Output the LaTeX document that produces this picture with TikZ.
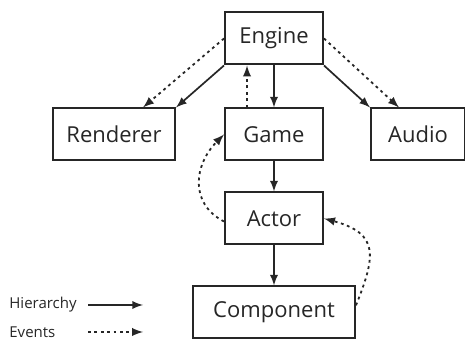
\documentclass[tikz,border=0pt]{standalone}
\usepackage{fontspec}
\setmainfont{Open Sans}
\usetikzlibrary{positioning,arrows,calc}

\begin{document}
\begin{tikzpicture}[x=0.5pt,y=0.5pt,
            block/.style={rectangle, draw=black!85, line width=1pt,
                minimum height=26pt, inner sep=0pt, text=black!85,
                font=\fontsize{11}{13}\selectfont},
            legend/.style={anchor=west, inner sep=0pt, text=black!85,
                font=\fontsize{7.5}{9}\selectfont},
            hier/.style={-latex, line width=0.85pt, draw=black!85},
            event/.style={-latex, line width=0.9pt, draw=black!85,
                dash pattern=on 1.4pt off 1.8pt}]

            \useasboundingbox (0,0) rectangle (465,340);

            \node [block,minimum width=49pt] (engine) at (274,301.5) {Engine};
            \node [block,minimum width=49pt,below=21pt of engine] (game) {Game};
            \node [block,minimum width=61pt,left=24pt of game] (renderer) {Renderer};
            \node [block,minimum width=47pt,right=23pt of game] (audio) {Audio};
            \node [block,minimum width=49pt,below=15pt of game] (actor) {Actor};
            \node [block,minimum width=81pt,below=20pt of actor] (component) {Component};

            % hierarchy
            \draw [hier] (engine.south west) -- (renderer.north east);
            \draw [hier] (engine.south) -- (game.north);
            \draw [hier] (engine.south east) -- (audio.north west);
            \draw [hier] (game) -- (actor);
            \draw [hier] (actor) -- (component);

            % events
            \draw [event] (engine.west) -- ($(renderer.north)+(29,0)$);
            \draw [event] (engine.east) -- ($(audio.north)+(-19,0)$);
            \draw [event] ($(game.north)+(-27,0)$) -- ($(engine.south)+(-27,0)$);
            \draw [event] ($(actor.west)+(0,-3)$) .. controls +(-35,18) and +(-30,-30) .. (game.west);
            \draw [event] (component.5) .. controls +(20,50) and +(55,-15) .. (actor.east);

            % legend
            \node [legend] (hierarchy) at (9,35) {Hierarchy};
            \node [legend] (events) at (9,8) {Events};
            \coordinate (hierfrom) at (88,35);
            \coordinate (hierto) at (143,35);
            \coordinate (eventfrom) at (88,8);
            \coordinate (eventto) at (143,8);
            \draw [hier] (hierfrom) -- (hierto);
            \draw [event] (eventfrom) -- (eventto);

        \end{tikzpicture}
\end{document}
